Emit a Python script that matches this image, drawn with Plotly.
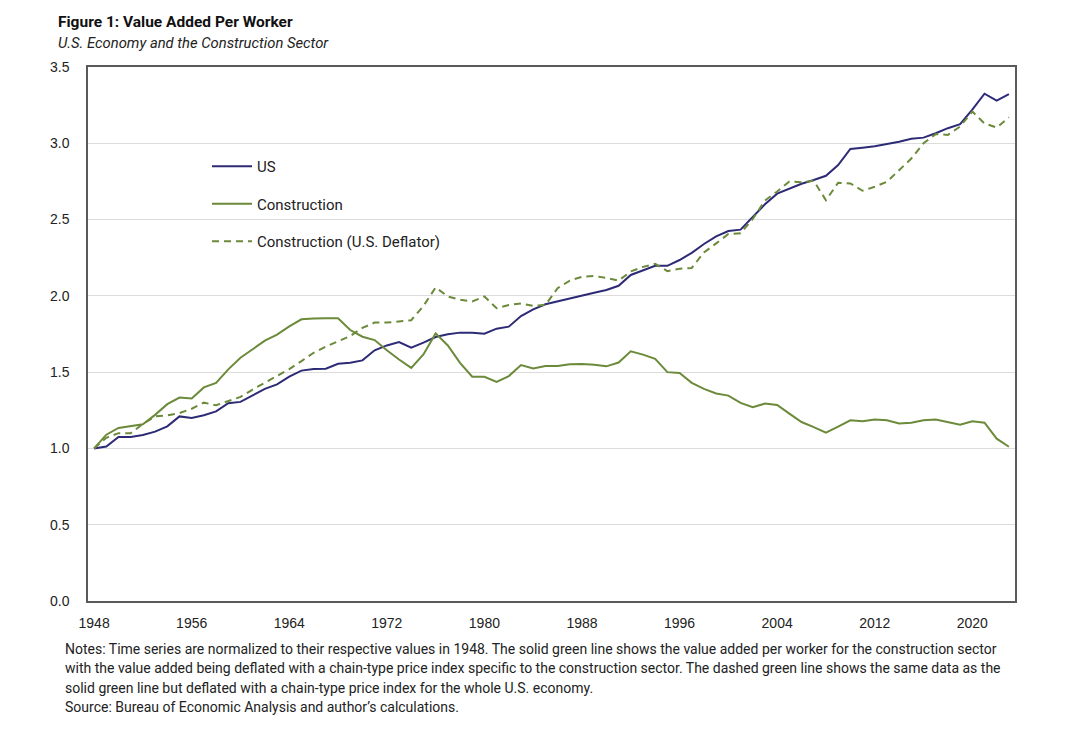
import plotly.graph_objects as go

years = list(range(1948, 2024))

us = [1.000, 1.013, 1.075, 1.075, 1.088, 1.110, 1.145, 1.210, 1.200, 1.217,
      1.243, 1.296, 1.305, 1.346, 1.390, 1.420, 1.470, 1.510, 1.520, 1.522,
      1.555, 1.561, 1.577, 1.643, 1.675, 1.697, 1.660, 1.693, 1.730, 1.748,
      1.759, 1.759, 1.752, 1.785, 1.798, 1.868, 1.912, 1.945, 1.965, 1.985,
      2.002, 2.020, 2.038, 2.066, 2.137, 2.167, 2.197, 2.197, 2.235, 2.282,
      2.340, 2.390, 2.425, 2.434, 2.515, 2.600, 2.670, 2.705, 2.735, 2.759,
      2.787, 2.857, 2.963, 2.971, 2.980, 2.996, 3.010, 3.030, 3.037, 3.066,
      3.099, 3.125, 3.220, 3.325, 3.280, 3.322]

construction = [1.000, 1.090, 1.134, 1.145, 1.158, 1.220, 1.290, 1.333, 1.327, 1.400,
                1.430, 1.518, 1.594, 1.650, 1.706, 1.746, 1.800, 1.846, 1.852, 1.853,
                1.853, 1.776, 1.732, 1.710, 1.643, 1.583, 1.528, 1.616, 1.754, 1.675,
                1.561, 1.470, 1.470, 1.436, 1.474, 1.546, 1.524, 1.540, 1.540, 1.552,
                1.553, 1.548, 1.538, 1.563, 1.637, 1.615, 1.587, 1.500, 1.495, 1.430,
                1.390, 1.360, 1.346, 1.298, 1.270, 1.294, 1.285, 1.228, 1.173, 1.140,
                1.103, 1.143, 1.184, 1.178, 1.190, 1.184, 1.164, 1.169, 1.184, 1.190,
                1.173, 1.156, 1.178, 1.169, 1.064, 1.011]

construction_usdefl = [1.000, 1.070, 1.100, 1.100, 1.160, 1.210, 1.217, 1.232, 1.260, 1.300,
                       1.283, 1.310, 1.338, 1.386, 1.430, 1.474, 1.520, 1.572, 1.627, 1.667,
                       1.700, 1.737, 1.790, 1.825, 1.825, 1.830, 1.840, 1.934, 2.055, 1.996,
                       1.974, 1.963, 1.996, 1.919, 1.940, 1.950, 1.934, 1.940, 2.050, 2.100,
                       2.125, 2.130, 2.118, 2.100, 2.160, 2.190, 2.210, 2.162, 2.178, 2.183,
                       2.285, 2.344, 2.405, 2.410, 2.504, 2.625, 2.684, 2.750, 2.745, 2.754,
                       2.627, 2.741, 2.737, 2.689, 2.715, 2.748, 2.825, 2.900, 3.000, 3.060,
                       3.055, 3.110, 3.208, 3.130, 3.103, 3.170]

tick_years = list(range(1948, 2024, 8))
y_ticks = [0.0, 0.5, 1.0, 1.5, 2.0, 2.5, 3.0, 3.5]

title = "Figure 1: Value Added Per Worker"
subtitle = "U.S. Economy and the Construction Sector"
notes = [
    "Notes: Time series are normalized to their respective values in 1948. The solid green line shows the value added per worker for the construction sector",
    "with the value added being deflated with a chain-type price index specific to the construction sector. The dashed green line shows the same data as the",
    "solid green line but deflated with a chain-type price index for the whole U.S. economy.",
    "Source: Bureau of Economic Analysis and author\u2019s calculations.",
]

NAVY = "#2d2a76"
GREEN = "#6b8a3a"
TXT = "Roboto"

fig = go.Figure()
fig.add_trace(go.Scatter(x=years, y=us, mode="lines", name="US", legendgroup="a",
                         line=dict(color=NAVY, width=2)))
fig.add_trace(go.Scatter(x=years, y=construction, mode="lines", name="Construction", legendgroup="b",
                         line=dict(color=GREEN, width=2)))
fig.add_trace(go.Scatter(x=years, y=construction_usdefl, mode="lines", name="Construction (U.S. Deflator)",
                         legendgroup="c", line=dict(color=GREEN, width=2, dash="7px,5px")))

OFF = 8  # page margin of the browser
W, H = 1066, 720
L, R, T, B = 88 - OFF, 1015 - OFF, 67 - OFF, 601 - OFF

def py(ypx):
    return (B - (ypx - OFF)) / (B - T)

def px(xpx):
    return ((xpx - OFF) - L) / (R - L)

fig.update_layout(
    width=W, height=H,
    margin=dict(l=L, r=W - R, t=T, b=H - B),
    paper_bgcolor="white", plot_bgcolor="white",
    showlegend=True,
    legend=dict(x=px(207), y=py(150), xanchor="left", yanchor="top",
                bgcolor="rgba(0,0,0,0)", font=dict(family=TXT, size=15, color="#222222"),
                tracegroupgap=15, traceorder="grouped", itemwidth=40),
    xaxis=dict(range=[1947.5, 2023.5], tickmode="array", tickvals=tick_years,
               ticktext=[str(y) for y in tick_years], showgrid=False, zeroline=False,
               showline=True, linecolor="#5a5a5a", linewidth=1.5, mirror=True,
               ticks="", ticklabelstandoff=8,
               tickfont=dict(family="Liberation Sans", size=14, color="#222222")),
    yaxis=dict(range=[0, 3.5], tickmode="array", tickvals=y_ticks,
               ticktext=[f"{v:.1f}" for v in y_ticks], showgrid=True, gridcolor="#dcdcdc",
               gridwidth=1, zeroline=False, showline=True, linecolor="#5a5a5a",
               linewidth=1.5, mirror=True, ticks="", ticklabelstandoff=14,
               tickfont=dict(family="Liberation Sans", size=14, color="#222222")),
)

fig.add_annotation(text="<b>" + title + "</b>", xref="paper", yref="paper",
                   x=px(56), y=py(22), xanchor="left", yanchor="middle", showarrow=False,
                   font=dict(family=TXT, size=15.5, color="#111111"))
fig.add_annotation(text="<i>" + subtitle + "</i>", xref="paper", yref="paper",
                   x=px(56), y=py(43), xanchor="left", yanchor="middle", showarrow=False,
                   font=dict(family=TXT, size=14.8, color="#222222"))
for i, line in enumerate(notes):
    fig.add_annotation(text=line, xref="paper", yref="paper",
                       x=px(63), y=py(649 + i * 19.3), xanchor="left", yanchor="middle",
                       showarrow=False, font=dict(family=TXT, size=14, color="#222222"))

fig.write_html("out.html")
